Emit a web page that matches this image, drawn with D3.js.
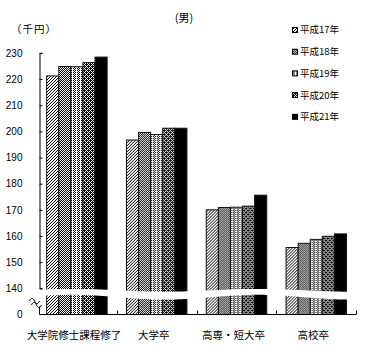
<!DOCTYPE html>
<html><head><meta charset="utf-8">
<script src="https://cdn.jsdelivr.net/npm/d3@7"></script>
<style>body{margin:0;background:#fff}svg{display:block}</style>
</head><body>
<script>
const categories = ["大学院修士課程修了", "大学卒", "高専・短大卒", "高校卒"];
const seriesNames = ["平成17年", "平成18年", "平成19年", "平成20年", "平成21年"];
const h17 = [221.2, 196.7, 170.0, 155.6];
const h18 = [224.8, 199.6, 170.9, 157.2];
const h19 = [224.7, 198.8, 171.0, 158.7];
const h20 = [226.3, 201.2, 171.4, 159.9];
const h21 = [228.4, 201.2, 175.6, 160.8];
const yTicks = [140, 150, 160, 170, 180, 190, 200, 210, 220, 230];
const unitLabel = "（千円）";
const titleLabel = "(男)";

const seriesValues = [h17, h18, h19, h20, h21];
const W = 381, H = 348;
const svg = d3.select("body").append("svg").attr("width", W).attr("height", H);
const defs = svg.append("defs");

function makePattern(id, size, cells, bg, fg) {
  const p = defs.append("pattern").attr("id", id).attr("patternUnits", "userSpaceOnUse")
    .attr("width", size).attr("height", size);
  p.append("rect").attr("width", size).attr("height", size).attr("fill", bg);
  cells.forEach(c => p.append("rect").attr("x", c[0]).attr("y", c[1]).attr("width", 1).attr("height", 1).attr("fill", fg));
}
makePattern("p0", 3, [[0,2],[1,1],[2,0]], "#fff", "#000");
makePattern("p1", 2, [[0,0],[1,1]], "#fff", "#000");
makePattern("p2", 4, [[0,0],[2,0],[1,1],[0,2],[2,2],[1,3]], "#fff", "#000");
makePattern("p3", 4, [[0,0],[2,0],[1,1],[3,1],[0,2],[2,2],[1,3],[3,3],[1,0],[3,2]], "#fff", "#000");
const fills = ["url(#p0)", "url(#p1)", "url(#p2)", "url(#p3)", "#000"];

const axisX = 39.5, baseY = 314.5;
const y = d3.scaleLinear().domain([140, 230]).range([288.3, 52.9]);
const x0 = d3.scaleBand().domain(categories).range([37, 356.2]).paddingInner(0).paddingOuter(0);
const x1 = d3.scaleBand().domain(seriesNames).range([0, x0.bandwidth()]).paddingInner(0).paddingOuter(0.8);

// bars
const groups = svg.append("g").selectAll("g").data(categories).join("g")
  .attr("transform", d => `translate(${x0(d)},0)`);
groups.selectAll("rect").data((c, ci) => seriesNames.map((s, si) => ({s, si, v: seriesValues[si][ci]})))
  .join("rect")
  .attr("x", d => x1(d.s))
  .attr("y", d => y(d.v))
  .attr("width", x1.bandwidth())
  .attr("height", d => baseY - y(d.v))
  .attr("fill", d => fills[d.si])
  .attr("stroke", "#111").attr("stroke-width", 1);

// wavy break band
const period = 185, phase = 165;
const wavePts = d3.range(42, 354, 2);
const waveTop = wavePts.map(xx => [xx, 290.3 + 1.4 * Math.cos(2 * Math.PI * (xx - phase) / period)]);
const waveBot = wavePts.map(xx => [xx, 297.2 + 2.4 * Math.cos(2 * Math.PI * (xx - phase) / period)]).reverse();
svg.append("path").attr("d", d3.line()(waveTop.concat(waveBot)) + "Z").attr("fill", "#fff");

// y axis
const yAxis = d3.axisLeft(y).tickValues(yTicks).tickSizeInner(-3).tickSizeOuter(-3).tickPadding(17);
const gy = svg.append("g").attr("transform", `translate(${axisX},0)`).call(yAxis);
gy.selectAll("path,line").attr("stroke", "#000");
gy.selectAll("text").attr("font-family", "Liberation Sans, Arial, sans-serif").attr("font-size", 10).attr("fill", "#000");

// lower axis segment and zero label
svg.append("line").attr("x1", axisX).attr("x2", axisX).attr("y1", 306.5).attr("y2", baseY).attr("stroke", "#000");
svg.append("text").attr("x", axisX - 17).attr("y", baseY).attr("dy", "0.32em").attr("text-anchor", "end")
  .attr("font-family", "Liberation Sans, Arial, sans-serif").attr("font-size", 10).text("0");
// break squiggle
svg.append("path").attr("d", "M29.5,301 c1.5,-3.5 3.5,-3.5 5,0 s3.5,3.5 5,0 M31.5,305 c1.5,-3.5 3.5,-3.5 5,0 s3.5,3.5 5,0")
  .attr("fill", "none").attr("stroke", "#000").attr("stroke-width", 1);

// x baseline with boundary ticks
svg.append("line").attr("x1", axisX).attr("x2", x0.range()[1]).attr("y1", baseY).attr("y2", baseY).attr("stroke", "#000");
const bounds = categories.slice(1).map(c => x0(c)).concat([x0.range()[1]]);
svg.append("g").selectAll("line").data(bounds).join("line")
  .attr("x1", d => Math.round(d) + 0.5).attr("x2", d => Math.round(d) + 0.5)
  .attr("y1", baseY - 4).attr("y2", baseY).attr("stroke", "#000");

// category labels
const jp = "'Noto Sans CJK JP', 'Noto Sans CJK SC', sans-serif";
svg.append("g").selectAll("text").data(categories).join("text")
  .attr("x", d => x0(d) + x0.bandwidth() / 2 - 3)
  .attr("y", 339).attr("text-anchor", "middle")
  .attr("font-family", jp).attr("font-size", 10.5).attr("fill", "#000").text(d => d);

// unit and title
svg.append("text").attr("x", 11).attr("y", 33).attr("font-family", jp).attr("font-size", 10.5)
  .attr("letter-spacing", 1).text(unitLabel);
svg.append("text").attr("x", 184).attr("y", 22).attr("text-anchor", "middle").attr("font-family", jp).attr("font-size", 11).text(titleLabel);

// legend
const leg = svg.append("g").selectAll("g").data(seriesNames).join("g")
  .attr("transform", (d, i) => `translate(292,${30 + i * 21.7})`);
leg.append("rect").attr("x", 0.5).attr("y", -2.5).attr("width", 5).attr("height", 5)
  .attr("fill", (d, i) => fills[i]).attr("stroke", "#000").attr("stroke-width", 1);
leg.append("text").attr("x", 8).attr("y", 0).attr("dy", "0.36em")
  .attr("font-family", jp).attr("font-size", 9.5).attr("fill", "#000").text(d => d);
</script>
</body></html>
